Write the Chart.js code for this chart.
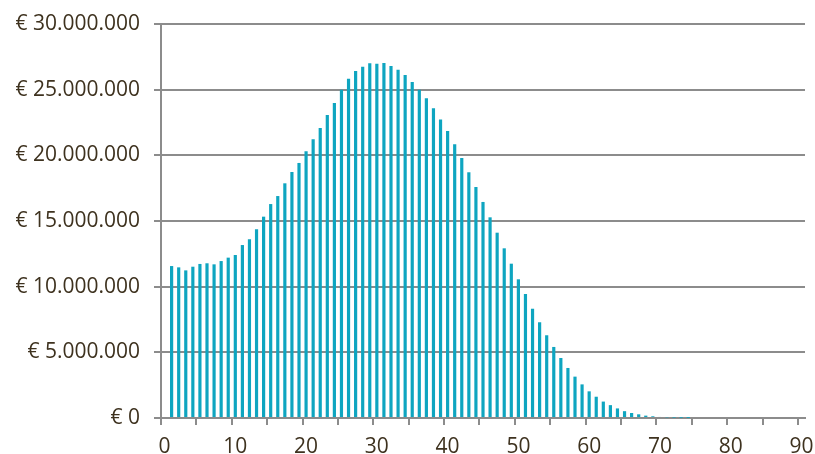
<!DOCTYPE html>
<html>
<head>
<meta charset="utf-8">
<script src="https://cdn.jsdelivr.net/npm/chart.js@4/dist/chart.umd.min.js"></script>
<style>
  html, body { margin: 0; padding: 0; background: #ffffff; }
  #wrap { width: 815px; height: 454px; }
</style>
</head>
<body>
<div id="wrap"><canvas id="chart" width="815" height="454"></canvas></div>
<script>
// Categories 0..90
const categories = [];
for (let i = 0; i <= 90; i++) categories.push(String(i));

// Amount per category (euro)
const amounts = [
  0, 11570000, 11470000, 11240000, 11520000, 11730000, 11780000, 11700000, 11950000, 12210000,
  12410000, 13170000, 13610000, 14370000, 15330000, 16290000, 16900000, 17870000, 18730000, 19420000,
  20310000, 21220000, 22080000, 23070000, 23990000, 25000000, 25840000, 26420000, 26750000, 27010000,
  26980000, 27030000, 26800000, 26520000, 26120000, 25580000, 25000000, 24340000, 23580000, 22720000,
  21850000, 20840000, 19800000, 18710000, 17590000, 16450000, 15280000, 14110000, 12920000, 11750000,
  10560000, 9440000, 8320000, 7290000, 6300000, 5410000, 4570000, 3810000, 3150000, 2560000,
  2030000, 1620000, 1250000, 980000, 730000, 520000, 380000, 280000, 180000, 130000,
  80000, 50000, 30000, 20000, 10000, 0, 0, 0, 0, 0,
  0, 0, 0, 0, 0, 0, 0, 0, 0, 0,
  0
];

// Value axis ticks
const yTicks = [0, 5000000, 10000000, 15000000, 20000000, 25000000, 30000000];

const axisGray = '#8c8c8c';
const textColor = '#3e321f';
const labelFont = { family: '"Open Sans", sans-serif', size: 21 };

function euro(v) {
  return '€ ' + String(Math.round(v)).replace(/\B(?=(\d{3})+(?!\d))/g, '.');
}

new Chart(document.getElementById('chart'), {
  type: 'bar',
  data: {
    labels: categories,
    datasets: [{
      data: amounts,
      backgroundColor: '#0ea5c0',
      borderWidth: 0,
      barPercentage: 0.45,
      categoryPercentage: 1.0
    }]
  },
  options: {
    responsive: false,
    animation: false,
    layout: { padding: { top: 24, right: 10, left: 0, bottom: 0 } },
    plugins: { legend: { display: false }, tooltip: { enabled: false } },
    scales: {
      x: {
        type: 'category',
        offset: true,
        grid: {
          offset: true,
          drawOnChartArea: false,
          drawTicks: true,
          tickLength: 7,
          lineWidth: 2,
          color: (ctx) => (ctx.index % 5 === 0 ? axisGray : 'rgba(0,0,0,0)')
        },
        border: { display: true, color: axisGray, width: 2 },
        ticks: {
          autoSkip: false,
          maxRotation: 0,
          minRotation: 0,
          padding: 9,
          color: textColor,
          font: labelFont,
          callback: function (value, index) {
            const c = Number(categories[index]);
            return c % 10 === 0 ? String(c) : '';
          }
        },
        afterFit: (scale) => {
          scale.height = 36;
          scale.paddingLeft = 0;
          scale.paddingRight = 0;
        }
      },
      y: {
        min: 0,
        max: 30000000,
        afterBuildTicks: (scale) => { scale.ticks = yTicks.map(v => ({ value: v })); },
        grid: {
          color: axisGray,
          lineWidth: 2,
          tickLength: 7
        },
        border: { display: true, color: axisGray, width: 2 },
        ticks: {
          padding: 14,
          color: textColor,
          font: labelFont,
          callback: (v) => euro(v)
        },
        afterFit: (scale) => {
          scale.width = 161;
          scale.paddingTop = 0;
          scale.paddingBottom = 0;
        }
      }
    }
  }
});
</script>
</body>
</html>
